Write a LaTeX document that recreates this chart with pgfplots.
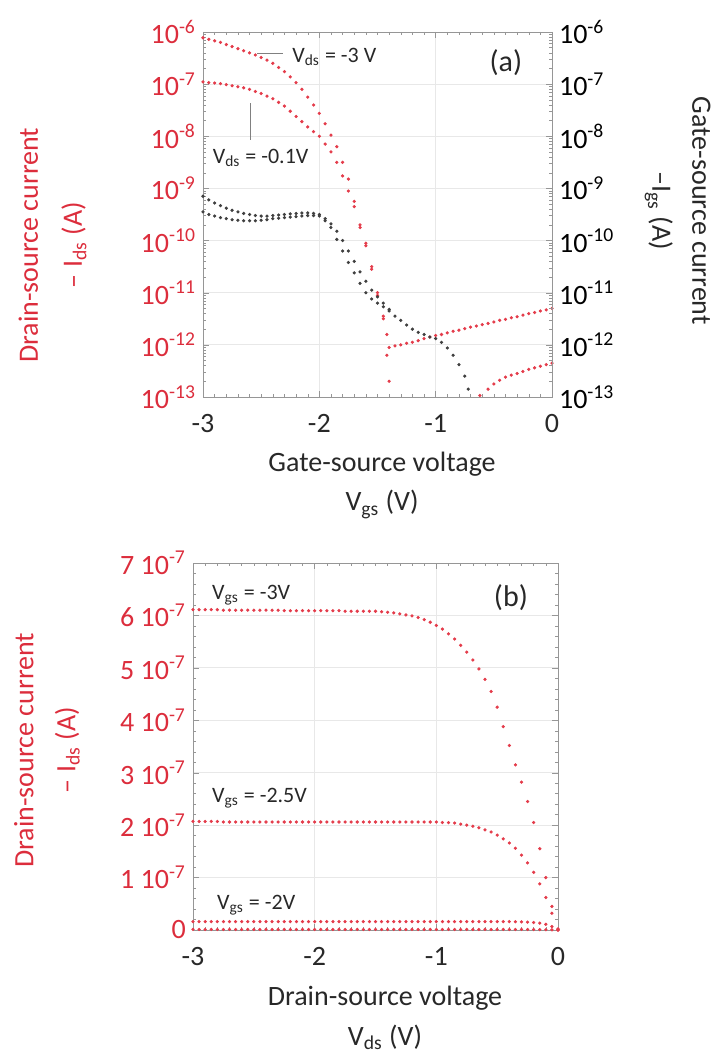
\documentclass[border=0pt]{standalone}
\usepackage{fontspec}
\setmainfont{Carlito}
\usepackage{pgfplots}
\usepackage{pgfplotstable}
\pgfplotsset{compat=1.18}

\definecolor{dred}{RGB}{228,60,75}
\definecolor{tred}{RGB}{220,45,60}
\definecolor{axgray}{RGB}{150,150,150}
\definecolor{txt}{RGB}{40,40,40}

\tikzset{note/.style={font=\fontsize{11}{13}\selectfont, text=txt}}
\pgfplotsset{
  panel/.style={
    scale only axis, anchor=south west,
    axis line style={axgray}, tick style={axgray},
    major tick length=3pt, minor tick length=1.6pt,
    grid=major, grid style={gray!18},
    tick label style={font=\fontsize{14}{16}\selectfont, text=txt},
    xticklabel style={yshift=-5pt},
    xmin=-3, xmax=0, xtick={-3,-2,-1,0}, xticklabels={-3,-2,-1,0},
    minor x tick num=9,
  },
  rdots/.style={only marks, mark=*, mark size=0.6pt, color=dred},
  kdots/.style={only marks, mark=*, mark size=0.6pt, color=black!75},
}

% panel (b): output curves, -I_ds (A) for V_gs = -3, -2.5, -2 V and off
\pgfplotstableread{
V A B C D
-3.00 6.11e-7 2.07e-7 1.60e-8 1.0e-9
-2.95 6.11e-7 2.07e-7 1.60e-8 1.0e-9
-2.90 6.11e-7 2.07e-7 1.60e-8 1.0e-9
-2.85 6.11e-7 2.07e-7 1.60e-8 1.0e-9
-2.80 6.11e-7 2.07e-7 1.60e-8 1.0e-9
-2.75 6.10e-7 2.06e-7 1.60e-8 1.0e-9
-2.70 6.10e-7 2.06e-7 1.60e-8 1.0e-9
-2.65 6.10e-7 2.06e-7 1.60e-8 1.0e-9
-2.60 6.10e-7 2.06e-7 1.60e-8 1.0e-9
-2.55 6.10e-7 2.06e-7 1.60e-8 1.0e-9
-2.50 6.10e-7 2.06e-7 1.60e-8 1.0e-9
-2.45 6.10e-7 2.06e-7 1.60e-8 1.0e-9
-2.40 6.10e-7 2.06e-7 1.60e-8 1.0e-9
-2.35 6.10e-7 2.06e-7 1.60e-8 1.0e-9
-2.30 6.10e-7 2.06e-7 1.60e-8 1.0e-9
-2.25 6.09e-7 2.06e-7 1.60e-8 1.0e-9
-2.20 6.09e-7 2.06e-7 1.60e-8 1.0e-9
-2.15 6.09e-7 2.06e-7 1.60e-8 1.0e-9
-2.10 6.09e-7 2.06e-7 1.60e-8 1.0e-9
-2.05 6.09e-7 2.06e-7 1.60e-8 1.0e-9
-2.00 6.09e-7 2.06e-7 1.60e-8 1.0e-9
-1.95 6.09e-7 2.06e-7 1.60e-8 1.0e-9
-1.90 6.09e-7 2.06e-7 1.60e-8 1.0e-9
-1.85 6.09e-7 2.06e-7 1.60e-8 1.0e-9
-1.80 6.09e-7 2.06e-7 1.60e-8 1.0e-9
-1.75 6.08e-7 2.06e-7 1.60e-8 1.0e-9
-1.70 6.08e-7 2.06e-7 1.60e-8 1.0e-9
-1.65 6.08e-7 2.06e-7 1.60e-8 1.0e-9
-1.60 6.08e-7 2.06e-7 1.60e-8 1.0e-9
-1.55 6.08e-7 2.06e-7 1.60e-8 1.0e-9
-1.50 6.08e-7 2.06e-7 1.60e-8 1.0e-9
-1.45 6.07e-7 2.06e-7 1.60e-8 1.0e-9
-1.40 6.06e-7 2.06e-7 1.60e-8 1.0e-9
-1.35 6.05e-7 2.06e-7 1.60e-8 1.0e-9
-1.30 6.03e-7 2.06e-7 1.60e-8 1.0e-9
-1.25 6.01e-7 2.06e-7 1.60e-8 1.0e-9
-1.20 5.99e-7 2.06e-7 1.60e-8 1.0e-9
-1.15 5.96e-7 2.06e-7 1.60e-8 1.0e-9
-1.10 5.92e-7 2.06e-7 1.60e-8 1.0e-9
-1.05 5.87e-7 2.06e-7 1.60e-8 1.0e-9
-1.00 5.81e-7 2.06e-7 1.60e-8 1.0e-9
-0.95 5.74e-7 2.05e-7 1.60e-8 1.0e-9
-0.90 5.65e-7 2.05e-7 1.60e-8 1.0e-9
-0.85 5.55e-7 2.04e-7 1.60e-8 1.0e-9
-0.80 5.43e-7 2.02e-7 1.60e-8 1.0e-9
-0.75 5.30e-7 2.00e-7 1.60e-8 1.0e-9
-0.70 5.15e-7 1.98e-7 1.60e-8 1.0e-9
-0.65 4.98e-7 1.95e-7 1.60e-8 1.0e-9
-0.60 4.78e-7 1.91e-7 1.60e-8 1.0e-9
-0.55 4.55e-7 1.87e-7 1.60e-8 1.0e-9
-0.50 4.25e-7 1.81e-7 1.60e-8 1.0e-9
-0.45 3.88e-7 1.74e-7 1.60e-8 1.0e-9
-0.40 3.52e-7 1.66e-7 1.60e-8 1.0e-9
-0.35 3.15e-7 1.56e-7 1.58e-8 1.0e-9
-0.30 2.82e-7 1.43e-7 1.55e-8 1.0e-9
-0.25 2.45e-7 1.28e-7 1.50e-8 1.0e-9
-0.20 2.05e-7 1.10e-7 1.42e-8 0.9e-9
-0.15 1.55e-7 0.88e-7 1.30e-8 0.8e-9
-0.10 1.00e-7 0.62e-7 1.08e-8 0.6e-9
-0.05 0.45e-7 0.32e-7 0.65e-8 0.3e-9
0.00 0.02e-7 0.01e-7 0.00e-8 0.0e-9
}\outputdata

\begin{document}
\begin{tikzpicture}
\useasboundingbox (0,0) rectangle (362pt,531.5pt);

% ---------------- panel (a), drain current (left axis) ----------------
\begin{axis}[panel,
  at={(101.5pt,333pt)}, width=174.5pt, height=182.5pt,
  ymode=log, ymin=1e-13, ymax=1e-6,
  ytick={1e-13,1e-12,1e-11,1e-10,1e-9,1e-8,1e-7,1e-6},
  yticklabels={10\textsuperscript{-13},10\textsuperscript{-12},10\textsuperscript{-11},10\textsuperscript{-10},10\textsuperscript{-9},10\textsuperscript{-8},10\textsuperscript{-7},10\textsuperscript{-6}},
  minor ytick={2e-13,3e-13,4e-13,5e-13,6e-13,7e-13,8e-13,9e-13,
    2e-12,3e-12,4e-12,5e-12,6e-12,7e-12,8e-12,9e-12,
    2e-11,3e-11,4e-11,5e-11,6e-11,7e-11,8e-11,9e-11,
    2e-10,3e-10,4e-10,5e-10,6e-10,7e-10,8e-10,9e-10,
    2e-9,3e-9,4e-9,5e-9,6e-9,7e-9,8e-9,9e-9,
    2e-8,3e-8,4e-8,5e-8,6e-8,7e-8,8e-8,9e-8,
    2e-7,3e-7,4e-7,5e-7,6e-7,7e-7,8e-7,9e-7},
  ytick pos=left,
  yticklabel style={text=tred},
  xlabel={Gate-source voltage\\V\textsubscript{gs} (V)},
  xlabel style={at={(axis description cs:0.513,-0.242)}, anchor=center,
    align=center, font=\fontsize{14}{19.5}\selectfont, text=txt},
  ylabel={Drain-source current\\– I\textsubscript{ds} (A)},
  ylabel style={at={(axis description cs:-0.431,0.416)}, anchor=center,
    align=center, font=\fontsize{14}{22}\selectfont, text=tred},
]
% V_ds = -3 V
\addplot[rdots] table {
V I
-3.00 0.776e-6
-2.95 0.724e-6
-2.90 0.676e-6
-2.85 0.631e-6
-2.80 0.575e-6
-2.75 0.525e-6
-2.70 0.479e-6
-2.65 0.437e-6
-2.60 0.398e-6
-2.55 0.363e-6
-2.50 0.324e-6
-2.45 0.288e-6
-2.40 0.251e-6
-2.35 0.209e-6
-2.30 0.174e-6
-2.25 0.138e-6
-2.20 0.107e-6
-2.15 0.794e-7
-2.10 0.562e-7
-2.05 0.398e-7
-2.00 0.275e-7
-1.95 0.174e-7
-1.90 0.105e-7
-1.85 0.631e-8
-1.80 0.316e-8
-1.75 0.151e-8
-1.70 0.562e-9
-1.65 0.200e-9
-1.60 0.891e-10
-1.55 0.316e-10
-1.50 0.100e-10
-1.45 0.355e-11
-1.42 0.158e-11
-1.40 0.891e-12
-1.35 0.955e-12
-1.30 0.100e-11
-1.25 0.107e-11
-1.20 0.112e-11
-1.15 0.120e-11
-1.10 0.132e-11
-1.05 0.141e-11
-1.00 0.151e-11
-0.95 0.158e-11
-0.90 0.170e-11
-0.85 0.182e-11
-0.80 0.191e-11
-0.75 0.204e-11
-0.70 0.219e-11
-0.65 0.229e-11
-0.60 0.245e-11
-0.55 0.257e-11
-0.50 0.275e-11
-0.45 0.295e-11
-0.40 0.309e-11
-0.35 0.331e-11
-0.30 0.347e-11
-0.25 0.372e-11
-0.20 0.398e-11
-0.15 0.417e-11
-0.10 0.447e-11
-0.05 0.468e-11
0.00 0.501e-11
};
% V_ds = -0.1 V
\addplot[rdots] table {
V I
-3.00 0.110e-6
-2.95 0.107e-6
-2.90 0.105e-6
-2.85 0.102e-6
-2.80 0.977e-7
-2.75 0.933e-7
-2.70 0.891e-7
-2.65 0.851e-7
-2.60 0.794e-7
-2.55 0.724e-7
-2.50 0.661e-7
-2.45 0.589e-7
-2.40 0.525e-7
-2.35 0.447e-7
-2.30 0.380e-7
-2.25 0.302e-7
-2.20 0.240e-7
-2.15 0.191e-7
-2.10 0.151e-7
-2.05 0.123e-7
-2.00 0.100e-7
-1.95 0.708e-8
-1.90 0.501e-8
-1.85 0.316e-8
-1.80 0.174e-8
-1.75 0.891e-9
-1.70 0.447e-9
-1.65 0.178e-9
-1.60 0.794e-10
-1.55 0.282e-10
-1.50 0.891e-11
-1.45 0.316e-11
-1.42 0.631e-12
-1.40 0.200e-12
-0.62 0.107e-12
-0.55 0.141e-12
-0.50 0.178e-12
-0.45 0.209e-12
-0.40 0.240e-12
-0.35 0.263e-12
-0.30 0.282e-12
-0.25 0.309e-12
-0.20 0.339e-12
-0.15 0.363e-12
-0.10 0.389e-12
-0.05 0.417e-12
0.00 0.447e-12
};
\draw[gray, thin] (rel axis cs:0.155,0.942) -- (rel axis cs:0.229,0.942);
\node[note, anchor=west] at (rel axis cs:0.236,0.932) {V\textsubscript{ds} = -3 V};
\draw[gray, thin] (rel axis cs:0.135,0.805) -- (rel axis cs:0.135,0.704);
\node[note, anchor=west] at (rel axis cs:0.008,0.655) {V\textsubscript{ds} = -0.1V};
\node[font=\fontsize{15}{17}\selectfont, text=txt] at (rel axis cs:0.868,0.915) {(a)};
\end{axis}

% ---------------- panel (a), gate current (right axis) ----------------
\begin{axis}[panel,
  at={(101.5pt,333pt)}, width=174.5pt, height=182.5pt,
  axis x line=none, axis y line*=right, grid=none,
  ymode=log, ymin=1e-13, ymax=1e-6,
  ytick={1e-13,1e-12,1e-11,1e-10,1e-9,1e-8,1e-7,1e-6},
  yticklabels={10\textsuperscript{-13},10\textsuperscript{-12},10\textsuperscript{-11},10\textsuperscript{-10},10\textsuperscript{-9},10\textsuperscript{-8},10\textsuperscript{-7},10\textsuperscript{-6}},
  minor ytick={2e-13,3e-13,4e-13,5e-13,6e-13,7e-13,8e-13,9e-13,
    2e-12,3e-12,4e-12,5e-12,6e-12,7e-12,8e-12,9e-12,
    2e-11,3e-11,4e-11,5e-11,6e-11,7e-11,8e-11,9e-11,
    2e-10,3e-10,4e-10,5e-10,6e-10,7e-10,8e-10,9e-10,
    2e-9,3e-9,4e-9,5e-9,6e-9,7e-9,8e-9,9e-9,
    2e-8,3e-8,4e-8,5e-8,6e-8,7e-8,8e-8,9e-8,
    2e-7,3e-7,4e-7,5e-7,6e-7,7e-7,8e-7,9e-7},
  ytick pos=right,
  yticklabel style={text=black},
  ylabel={Gate-source current\\–I\textsubscript{gs} (A)},
  ylabel style={at={(axis description cs:1.36,0.51)}, anchor=center, rotate=180,
    align=center, font=\fontsize{14}{20}\selectfont, text=txt},
]
\addplot[kdots] table {
V I
-3.00 0.708e-9
-2.95 0.603e-9
-2.90 0.525e-9
-2.85 0.468e-9
-2.80 0.417e-9
-2.75 0.380e-9
-2.70 0.355e-9
-2.65 0.331e-9
-2.60 0.316e-9
-2.55 0.302e-9
-2.50 0.295e-9
-2.45 0.295e-9
-2.40 0.302e-9
-2.35 0.309e-9
-2.30 0.316e-9
-2.25 0.324e-9
-2.20 0.331e-9
-2.15 0.339e-9
-2.10 0.339e-9
-2.05 0.331e-9
-2.00 0.316e-9
-1.95 0.263e-9
-1.90 0.178e-9
-1.85 0.105e-9
-1.80 0.631e-10
-1.75 0.380e-10
-1.70 0.240e-10
-1.65 0.151e-10
-1.60 0.100e-10
-1.55 0.759e-11
-1.50 0.631e-11
-1.45 0.537e-11
-1.40 0.447e-11
-1.35 0.355e-11
-1.30 0.295e-11
-1.25 0.240e-11
-1.20 0.200e-11
-1.15 0.174e-11
-1.10 0.158e-11
-1.05 0.141e-11
-1.00 0.132e-11
-0.95 0.112e-11
-0.90 0.871e-12
-0.85 0.631e-12
-0.80 0.417e-12
-0.75 0.251e-12
-0.72 0.141e-12
};
\addplot[kdots] table {
V I
-3.00 0.355e-9
-2.95 0.316e-9
-2.90 0.295e-9
-2.85 0.275e-9
-2.80 0.263e-9
-2.75 0.251e-9
-2.70 0.245e-9
-2.65 0.240e-9
-2.60 0.240e-9
-2.55 0.240e-9
-2.50 0.245e-9
-2.45 0.251e-9
-2.40 0.263e-9
-2.35 0.269e-9
-2.30 0.275e-9
-2.25 0.282e-9
-2.20 0.288e-9
-2.15 0.295e-9
-2.10 0.302e-9
-2.05 0.302e-9
-2.00 0.295e-9
-1.95 0.240e-9
-1.90 0.209e-9
-1.85 0.151e-9
-1.80 0.100e-9
-1.75 0.631e-10
-1.70 0.398e-10
-1.65 0.251e-10
-1.60 0.166e-10
-1.55 0.112e-10
-1.50 0.832e-11
-1.45 0.631e-11
-1.40 0.479e-11
};
\end{axis}

% ---------------- panel (b) ----------------
\begin{axis}[panel,
  at={(96.5pt,66.5pt)}, width=182.5pt, height=183.5pt,
  ymin=0, ymax=7e-7, scaled y ticks=false,
  ytick={0,1e-7,2e-7,3e-7,4e-7,5e-7,6e-7,7e-7},
  yticklabels={0,1 10\textsuperscript{-7},2 10\textsuperscript{-7},3 10\textsuperscript{-7},4 10\textsuperscript{-7},5 10\textsuperscript{-7},6 10\textsuperscript{-7},7 10\textsuperscript{-7}},
  minor y tick num=4,
  yticklabel style={text=tred},
  xlabel={Drain-source voltage\\V\textsubscript{ds} (V)},
  xlabel style={at={(axis description cs:0.526,-0.24)}, anchor=center,
    align=center, font=\fontsize{14}{20}\selectfont, text=txt},
  ylabel={Drain-source current\\– I\textsubscript{ds} (A)},
  ylabel style={at={(axis description cs:-0.400,0.490)}, anchor=center,
    align=center, font=\fontsize{14}{21}\selectfont, text=tred},
]
\addplot[rdots] table[x=V, y=A] {\outputdata};
\addplot[rdots] table[x=V, y=B] {\outputdata};
\addplot[rdots] table[x=V, y=C] {\outputdata};
\addplot[rdots] table[x=V, y=D] {\outputdata};
\node[note, anchor=west] at (rel axis cs:0.033,0.913) {V\textsubscript{gs} = -3V};
\node[note, anchor=west] at (rel axis cs:0.033,0.360) {V\textsubscript{gs} = -2.5V};
\node[note, anchor=west] at (rel axis cs:0.047,0.068) {V\textsubscript{gs} = -2V};
\node[font=\fontsize{15}{17}\selectfont, text=txt] at (rel axis cs:0.871,0.907) {(b)};
\end{axis}
\end{tikzpicture}
\end{document}
